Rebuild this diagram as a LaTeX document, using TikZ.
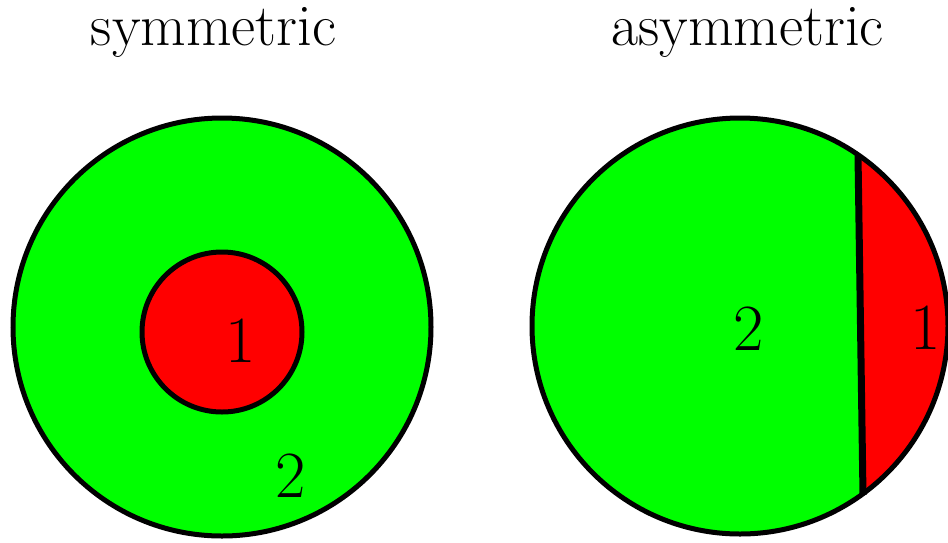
\documentclass[tikz,border=0pt]{standalone}
\usetikzlibrary{positioning}

\definecolor{phasegreen}{RGB}{0,255,0}
\definecolor{phasered}{RGB}{255,0,0}

\begin{document}
\begin{tikzpicture}[
        x=1pt, y=-1pt,
        title/.style={anchor=base, inner sep=0pt, font=\fontsize{59}{66}\selectfont},
        label/.style={anchor=base, inner sep=0pt, font=\fontsize{66}{72}\selectfont},
        rim/.style={draw=black, line width=5pt},
        chord/.style={draw=black, line width=7pt}
        ]

        \useasboundingbox (0,0) rectangle (948,542);

        % symmetric
        \fill[phasegreen] (222,327) circle (209);
        \draw[rim] (222,327) circle (209);
        \filldraw[rim, fill=phasered] (222,332) circle (80);

        % asymmetric
        \coordinate (chordtop) at (858,155);
        \coordinate (chordbot) at (863,495);
        \fill[phasegreen] (740,326) circle (208);
        \begin{scope}
            \clip (740,326) circle (208);
            \fill[phasered] (857.2,100) -- (863.9,560) -- (1000,560) -- (1000,100) -- cycle;
        \end{scope}
        \draw[chord] (chordtop) -- (chordbot);
        \draw[rim] (740,326) circle (208);

        \node (title1) [title] at (213.5,45) {symmetric};
        \node (title2) [title] at (747.5,45) {asymmetric};

        \node (inner1) [label] at (241,362) {1};
        \node (outer2) [label] at (291,497) {2};
        \node (left2)  [label] at (749,350) {2};
        \node (right1) [label] at (926,349) {1};

    \end{tikzpicture}
\end{document}
